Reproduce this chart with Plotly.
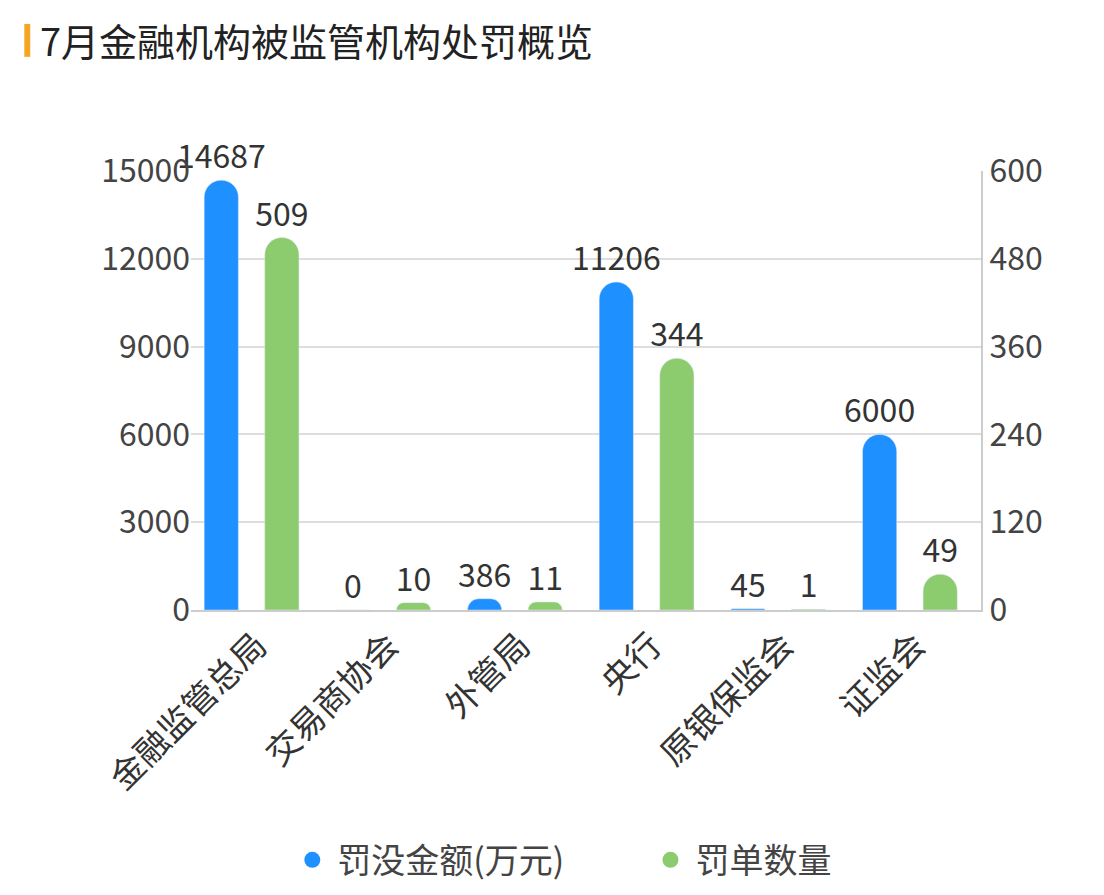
import plotly.graph_objects as go

categories = ["金融监管总局", "交易商协会", "外管局", "央行", "原银保监会", "证监会"]
fines = [14687, 0, 386, 11206, 45, 6000]
counts = [509, 10, 11, 344, 1, 49]
blue = "#1E90FF"
green = "#8CCB6E"
font = "Noto Sans CJK SC"

fig = go.Figure()
fig.add_trace(go.Bar(x=categories, y=fines, name="罚没金额(万元)", marker=dict(color=blue, cornerradius=17),
                     width=0.26, offset=-0.40, text=fines, textposition="outside", cliponaxis=False,
                     constraintext="none", textfont=dict(size=32, color="#333"), showlegend=False, yaxis="y"))
fig.add_trace(go.Bar(x=categories, y=counts, name="罚单数量", marker=dict(color=green, cornerradius=17),
                     width=0.26, offset=0.06, text=counts, textposition="outside", cliponaxis=False,
                     constraintext="none", textfont=dict(size=32, color="#333"), showlegend=False, yaxis="y2"))
for nm, c in [("罚没金额(万元)          ", blue), ("罚单数量", green)]:
    fig.add_trace(go.Scatter(x=[None], y=[None], mode="markers", name=nm,
                             marker=dict(color=c, size=38, symbol="circle")))

fig.update_layout(
    width=1104, height=895, plot_bgcolor="white", paper_bgcolor="white",
    margin=dict(l=183, r=131, t=163, b=293),
    font=dict(family=font, color="#333", size=32),
    barmode="overlay",
    uniformtext=dict(minsize=32, mode="show"),
    xaxis=dict(tickangle=-45, tickfont=dict(size=34), showline=True, linecolor="#ccc", linewidth=2, ticks=""),
    yaxis=dict(range=[0, 15000], tickvals=[0, 3000, 6000, 9000, 12000, 15000], tickformat="d",
               gridcolor="#ddd", gridwidth=2, zeroline=False, tickfont=dict(size=32, color="#444"), ticksuffix=" "),
    yaxis2=dict(range=[0, 600], tickvals=[0, 120, 240, 360, 480, 600], overlaying="y", side="right",
                showgrid=False, showline=True, linecolor="#ccc", linewidth=2, tickfont=dict(size=32, color="#444"),
                tickprefix=" "),
    legend=dict(orientation="h", x=0.47, xanchor="center", y=-0.57, yanchor="middle",
                font=dict(size=34, color="#444"), itemwidth=40),
    annotations=[dict(text="7月金融机构被监管机构处罚概览", xref="paper", yref="paper", x=-0.2, y=1.3,
                      xanchor="left", yanchor="middle", showarrow=False, font=dict(size=38, color="#222"),
                      xshift=5)],
)
fig.add_shape(type="rect", xref="paper", yref="paper", x0=-0.211, x1=-0.2035, y0=1.26, y1=1.335,
              fillcolor="#F5A623", line=dict(width=0))
fig.write_html("out.html")
